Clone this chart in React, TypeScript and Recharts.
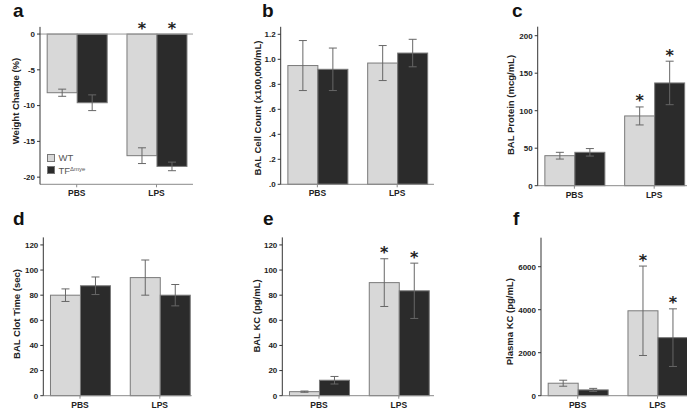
import React from "react";
import { BarChart, Bar, XAxis, YAxis, ErrorBar, ReferenceLine, Legend } from "recharts";

const categories = ["PBS", "LPS"];
const seriesNames = ["WT", "TF"];
const seriesSup = ["", "Δmye"];

// a: Weight change (%)
const weightWT = [-8.2, -17.0];
const weightWTErr = [0.5, 1.1];
const weightTF = [-9.6, -18.5];
const weightTFErr = [1.1, 0.6];
const weightWTSig = [false, true];
const weightTFSig = [false, true];
const weightTicks = [0, -5, -10, -15, -20];
const weightTickLabels = ["0", "-5", "-10", "-15", "-20"];

// b: BAL cell count
const cellWT = [0.95, 0.97];
const cellWTErr = [0.2, 0.14];
const cellTF = [0.92, 1.05];
const cellTFErr = [0.17, 0.11];
const cellWTSig = [false, false];
const cellTFSig = [false, false];
const cellTicks = [0, 0.2, 0.4, 0.6, 0.8, 1.0, 1.2];
const cellTickLabels = [".0", ".2", ".4", ".6", ".8", "1.0", "1.2"];

// c: BAL protein
const proteinWT = [40, 93];
const proteinWTErr = [4.5, 12];
const proteinTF = [44.5, 137];
const proteinTFErr = [5, 29];
const proteinWTSig = [false, true];
const proteinTFSig = [false, true];
const proteinTicks = [0, 50, 100, 150, 200];
const proteinTickLabels = ["0", "50", "100", "150", "200"];

// d: BAL clot time
const clotWT = [80, 94];
const clotWTErr = [5, 14];
const clotTF = [87.5, 80];
const clotTFErr = [7, 8.5];
const clotWTSig = [false, false];
const clotTFSig = [false, false];
const clotTicks = [0, 20, 40, 60, 80, 100, 120];
const clotTickLabels = ["0", "20", "40", "60", "80", "100", "120"];

// e: BAL KC
const balKcWT = [3.2, 90];
const balKcWTErr = [0.5, 19];
const balKcTF = [12.3, 83.5];
const balKcTFErr = [3, 22];
const balKcWTSig = [false, true];
const balKcTFSig = [false, true];
const balKcTicks = [0, 20, 40, 60, 80, 100, 120];
const balKcTickLabels = ["0", "20", "40", "60", "80", "100", "120"];

// f: Plasma KC
const plasmaWT = [580, 3950];
const plasmaWTErr = [140, 2080];
const plasmaTF = [270, 2700];
const plasmaTFErr = [70, 1340];
const plasmaWTSig = [false, true];
const plasmaTFSig = [false, true];
const plasmaTicks = [0, 2000, 4000, 6000];
const plasmaTickLabels = ["0", "2000", "4000", "6000"];

const WT_FILL = "#d8d8d8";
const TF_FILL = "#2b2b2b";
const FONT = "'Liberation Sans', Arial, Helvetica, sans-serif";

type PanelCfg = {
  letter: string;
  title: string;
  wt: number[];
  wtErr: number[];
  tf: number[];
  tfErr: number[];
  wtSig: boolean[];
  tfSig: boolean[];
  domain: [number, number];
  ticks: number[];
  tickLabels: string[];
  box: { left: number; top: number; plotLeft: number; plotRight: number; plotTop: number; plotBottom: number };
  titlePos: [number, number];
  letterPos: [number, number];
  zeroLine?: boolean;
  legend?: boolean;
};

const panels: PanelCfg[] = [
  {
    letter: "a", title: "Weight Change (%)",
    wt: weightWT, wtErr: weightWTErr, tf: weightTF, tfErr: weightTFErr, wtSig: weightWTSig, tfSig: weightTFSig,
    domain: [-21, 1], ticks: weightTicks, tickLabels: weightTickLabels,
    box: { left: 0, top: 0, plotLeft: 40, plotRight: 193, plotTop: 26.9, plotBottom: 184.3 },
    titlePos: [15.3, 101], letterPos: [13, 17], zeroLine: true, legend: true,
  },
  {
    letter: "b", title: "BAL Cell Count (x100,000/mL)",
    wt: cellWT, wtErr: cellWTErr, tf: cellTF, tfErr: cellTFErr, wtSig: cellWTSig, tfSig: cellTFSig,
    domain: [0, 1.26], ticks: cellTicks, tickLabels: cellTickLabels,
    box: { left: 230, top: 0, plotLeft: 280.7, plotRight: 434, plotTop: 26.8, plotBottom: 184.3 },
    titlePos: [257, 108], letterPos: [262, 17],
  },
  {
    letter: "c", title: "BAL Protein (mcg/mL)",
    wt: proteinWT, wtErr: proteinWTErr, tf: proteinTF, tfErr: proteinTFErr, wtSig: proteinWTSig, tfSig: proteinTFSig,
    domain: [0, 212], ticks: proteinTicks, tickLabels: proteinTickLabels,
    box: { left: 455, top: 0, plotLeft: 537.7, plotRight: 690.7, plotTop: 26.7, plotBottom: 185.7 },
    titlePos: [510.8, 105], letterPos: [512, 17],
  },
  {
    letter: "d", title: "BAL Clot Time (sec)",
    wt: clotWT, wtErr: clotWTErr, tf: clotTF, tfErr: clotTFErr, wtSig: clotWTSig, tfSig: clotTFSig,
    domain: [0, 126], ticks: clotTicks, tickLabels: clotTickLabels,
    box: { left: 0, top: 200, plotLeft: 43.3, plotRight: 191.7, plotTop: 237.4, plotBottom: 395.7 },
    titlePos: [16.3, 314], letterPos: [13, 225],
  },
  {
    letter: "e", title: "BAL KC (pg/mL)",
    wt: balKcWT, wtErr: balKcWTErr, tf: balKcTF, tfErr: balKcTFErr, wtSig: balKcWTSig, tfSig: balKcTFSig,
    domain: [0, 126], ticks: balKcTicks, tickLabels: balKcTickLabels,
    box: { left: 230, top: 200, plotLeft: 282.3, plotRight: 434, plotTop: 237.4, plotBottom: 395.7 },
    titlePos: [256.2, 316], letterPos: [263, 225],
  },
  {
    letter: "f", title: "Plasma KC (pg/mL)",
    wt: plasmaWT, wtErr: plasmaWTErr, tf: plasmaTF, tfErr: plasmaTFErr, wtSig: plasmaWTSig, tfSig: plasmaTFSig,
    domain: [0, 7350], ticks: plasmaTicks, tickLabels: plasmaTickLabels,
    box: { left: 455, top: 200, plotLeft: 541, plotRight: 694, plotTop: 237.7, plotBottom: 395.7 },
    titlePos: [509.2, 321.7], letterPos: [513, 225],
  },
];

const makeShape = (valKey: string, errKey: string, sigKey: string) => (props: any) => {
  const { x, y, width, height, payload, fill } = props;
  const v = payload[valKey];
  const e = payload[errKey];
  const top = Math.min(y, y + height);
  const bottom = Math.max(y, y + height);
  const y0 = v >= 0 ? bottom : top;
  const k = v !== 0 ? (bottom - top) / Math.abs(v) : 0;
  const topVal = v >= 0 ? v + e : 0;
  const starCenter = y0 - k * topVal - 9.5;
  return (
    <g>
      <rect x={x} y={top} width={width} height={bottom - top} fill={fill} stroke="#7a7a7a" strokeWidth={1} />
      {payload[sigKey] ? (
        <text x={x + width / 2} y={starCenter + 9} textAnchor="middle" fontSize={16} fontWeight="bold"
          fontFamily="'DejaVu Sans', sans-serif" fill="#222">*</text>
      ) : null}
    </g>
  );
};

const renderLegend = (props: any) => {
  const payload = [...(props.payload || [])].sort(
    (a: any, b: any) => seriesNames.indexOf(a.value) - seriesNames.indexOf(b.value)
  );
  return (
    <div style={{ display: "flex", flexDirection: "column", gap: 3.5, fontFamily: FONT }}>
      {payload.map((p: any) => {
        const idx = seriesNames.indexOf(p.value);
        return (
          <div key={p.value} style={{ display: "flex", alignItems: "center", height: 8 }}>
            <span style={{ display: "inline-block", width: 8, height: 8, background: p.color, border: "1px solid #777", boxSizing: "border-box" }} />
            <span style={{ marginLeft: 4, fontSize: 9.5, color: "#555", lineHeight: "8px" }}>
              {p.value}
              {seriesSup[idx] ? <sup style={{ fontSize: 6, verticalAlign: "3px" }}>{seriesSup[idx]}</sup> : null}
            </span>
          </div>
        );
      })}
    </div>
  );
};

const XH = 22;

function Panel({ cfg }: { cfg: PanelCfg }) {
  const { box } = cfg;
  const data = categories.map((c, i) => ({
    cat: c,
    wt: cfg.wt[i], wtErr: cfg.wtErr[i], wtSig: cfg.wtSig[i],
    tf: cfg.tf[i], tfErr: cfg.tfErr[i], tfSig: cfg.tfSig[i],
  }));
  const width = box.plotRight - box.left + 10;
  const height = box.plotBottom - box.top + XH;
  const axisLen = box.plotRight - box.plotLeft;
  const padLeft = -3.2;
  const padRight = axisLen - 156.4;
  const tickStyle = { fontSize: 8, fontWeight: "bold", fill: "#222", fontFamily: FONT };
  return (
    <div style={{ position: "absolute", left: box.left, top: box.top }}>
      <BarChart width={width} height={height} data={data}
        margin={{ top: box.plotTop - box.top, right: 10, bottom: 0, left: 0 }}
        barGap={0} barCategoryGap="13%">
        <XAxis dataKey="cat" height={XH} tickSize={3} tickMargin={3} padding={{ left: padLeft, right: padRight }}
          axisLine={{ stroke: "#8a8a8a" }} tickLine={{ stroke: "#8a8a8a" }}
          tick={{ fontSize: 8.5, fontWeight: "bold", fill: "#222", fontFamily: FONT }} />
        <YAxis type="number" domain={cfg.domain} ticks={cfg.ticks} interval={0} width={box.plotLeft - box.left}
          tickSize={3} tickMargin={2}
          tickFormatter={(v: number) => cfg.tickLabels[cfg.ticks.indexOf(v)] ?? String(v)}
          axisLine={{ stroke: "#333" }} tickLine={{ stroke: "#333" }} tick={tickStyle} />
        {cfg.zeroLine ? <ReferenceLine y={0} stroke="#9a9a9a" strokeWidth={1} /> : null}
        {cfg.legend ? (
          <Legend layout="horizontal" verticalAlign="middle" align="center" content={renderLegend}
            wrapperStyle={{ position: "absolute", left: 46.5, top: 154, width: "auto", height: "auto" }} />
        ) : null}
        <Bar dataKey="wt" name={seriesNames[0]} fill={WT_FILL} isAnimationActive={false}
          shape={makeShape("wt", "wtErr", "wtSig")}>
          <ErrorBar dataKey="wtErr" width={4} stroke="#666" strokeWidth={1} />
        </Bar>
        <Bar dataKey="tf" name={seriesNames[1]} fill={TF_FILL} isAnimationActive={false}
          shape={makeShape("tf", "tfErr", "tfSig")}>
          <ErrorBar dataKey="tfErr" width={4} stroke="#666" strokeWidth={1} />
        </Bar>
      </BarChart>
    </div>
  );
}

export default function App() {
  return (
    <div style={{ position: "absolute", left: 0, top: 0, width: 687, height: 412, overflow: "hidden", background: "#fff", fontFamily: FONT }}>
      {panels.map((p) => (
        <Panel key={p.letter} cfg={p} />
      ))}
      <svg width={687} height={412} style={{ position: "absolute", left: 0, top: 0, pointerEvents: "none" }}>
        {panels.map((p) => (
          <g key={p.letter}>
            <text x={p.letterPos[0]} y={p.letterPos[1]} fontSize={19} fontWeight="bold" fontFamily={FONT} fill="#111">
              {p.letter}
            </text>
            <text x={p.titlePos[0]} y={p.titlePos[1]} transform={`rotate(-90 ${p.titlePos[0]} ${p.titlePos[1]})`}
              textAnchor="middle" dominantBaseline="central" fontSize={9.5} fontWeight="bold" fontFamily={FONT} fill="#222">
              {p.title}
            </text>
          </g>
        ))}
      </svg>
    </div>
  );
}
